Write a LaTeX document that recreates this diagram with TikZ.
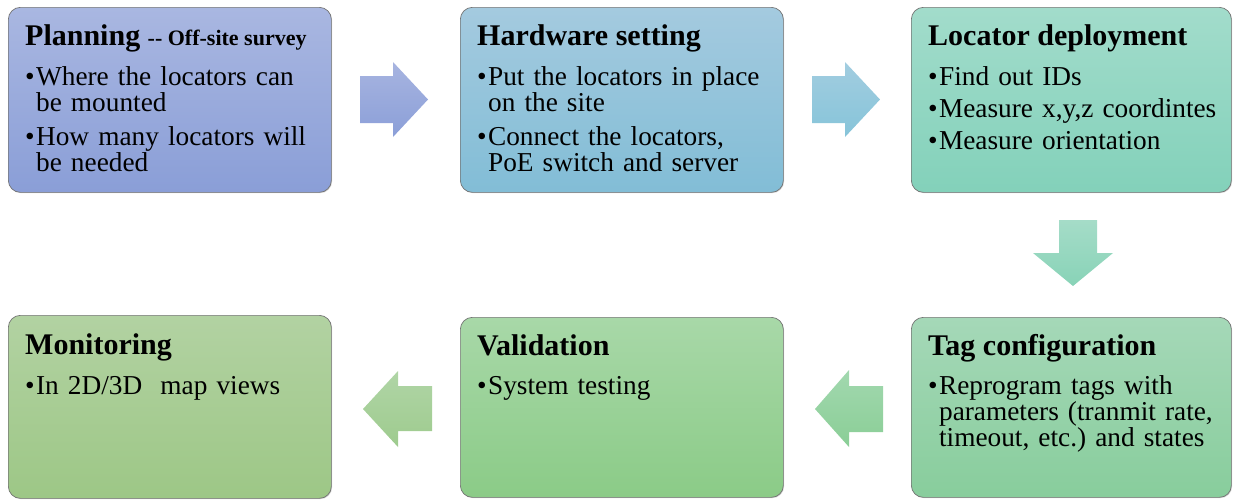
\documentclass[tikz,border=0pt]{standalone}
\usepackage{fontspec}
\setmainfont{Liberation Serif}
\usetikzlibrary{shadows}
\definecolor{bAt}{HTML}{A9B7E1}\definecolor{bAb}{HTML}{8A9ED7}
\definecolor{bBt}{HTML}{A4CADF}\definecolor{bBb}{HTML}{82BDD6}
\definecolor{bCt}{HTML}{A2DCCB}\definecolor{bCb}{HTML}{83D1BA}
\definecolor{bDt}{HTML}{A5D8B8}\definecolor{bDb}{HTML}{88CD9C}
\definecolor{bEt}{HTML}{A8D8A8}\definecolor{bEb}{HTML}{8BCB87}
\definecolor{bFt}{HTML}{B2D2A2}\definecolor{bFb}{HTML}{9DC786}
\definecolor{aAt}{HTML}{A7B4E0}\definecolor{aAb}{HTML}{8B9FD8}
\definecolor{aBt}{HTML}{A2CDE0}\definecolor{aBb}{HTML}{86C4D9}
\definecolor{aCt}{HTML}{A5DCC8}\definecolor{aCb}{HTML}{88D3B7}
\definecolor{aDt}{HTML}{A2D8AF}\definecolor{aDb}{HTML}{8ACE96}
\definecolor{aEt}{HTML}{B0D5A6}\definecolor{aEb}{HTML}{9ECB8E}
\newcommand\bu{\makebox[0.4em][l]{\textbullet}}
\newcommand\hi{\hspace*{0.4em}}
\frenchspacing
\begin{document}
\begin{tikzpicture}[x=1pt,y=-1pt,
  box/.style={draw=black!55, line width=0.7pt, rounded corners=12pt, inner sep=0pt,
    anchor=north west, minimum width=323pt, minimum height=185pt,
    drop shadow={opacity=0.35, shadow xshift=0.8pt, shadow yshift=-0.8pt}},
  ttl/.style={anchor=base west, inner sep=0pt, font=\bfseries\fontsize{30}{30}\selectfont},
  body/.style={anchor=base west, inner sep=0pt, align=left, text width=300pt,
    font=\fontsize{27.3}{26}\selectfont},
  blk/.style={draw=none}]
\useasboundingbox (0,0) rectangle (1233,499);
% boxes
\node (b1) [box, top color=bAt, bottom color=bAb] at (8,7) {};
\node (b2) [box, top color=bBt, bottom color=bBb] at (460,7) {};
\node (b3) [box, top color=bCt, bottom color=bCb, minimum width=320pt] at (911,7) {};
\node (b4) [box, top color=bDt, bottom color=bDb, minimum width=320pt, minimum height=180pt] at (911,317) {};
\node (b5) [box, top color=bEt, bottom color=bEb, minimum height=180pt] at (460,317) {};
\node (b6) [box, top color=bFt, bottom color=bFb, minimum height=183pt] at (8,315) {};
% texts
\node (t1) [ttl] at (25,45) {Planning {\fontsize{22}{22}\selectfont {-}{-} Off-site survey}};
\node (x1) [body] at (25,85) {\bu Where the locators can\\ \hi be mounted\\[8pt] \bu How many locators will\\ \hi be needed};
\node (t2) [ttl] at (477,45) {Hardware setting};
\node (x2) [body] at (477,85) {\bu Put the locators in place\\ \hi on the site\\[8pt] \bu Connect the locators,\\ \hi PoE switch and server};
\node (t3) [ttl] at (928,45) {Locator deployment};
\node (x3) [body] at (928,85) {\bu Find out IDs\\[6pt] \bu Measure x,y,z coordintes\\[6pt] \bu Measure orientation};
\node (t4) [ttl] at (928,355) {Tag configuration};
\node (x4) [body] at (928,394) {\bu Reprogram tags with\\ \hi parameters (tranmit rate,\\ \hi timeout, etc.) and states};
\node (t5) [ttl] at (477,355) {Validation};
\node (x5) [body] at (477,394) {\bu System testing};
\node (t6) [ttl] at (25,354) {Monitoring};
\node (x6) [body] at (25,394) {\bu In 2D/3D\ \ map views};
% block arrows
\shade[blk, top color=aAt, bottom color=aAb] (360,76) -- (393,76) -- (393,62) -- (428,99.5) -- (393,137) -- (393,123) -- (360,123) -- cycle;
\shade[blk, top color=aBt, bottom color=aBb] (812,76) -- (845,76) -- (845,62) -- (880,99.5) -- (845,137) -- (845,123) -- (812,123) -- cycle;
\shade[blk, top color=aCt, bottom color=aCb] (1059,220) -- (1097,220) -- (1097,253) -- (1113,253) -- (1073,286) -- (1033,253) -- (1059,253) -- cycle;
\shade[blk, top color=aDt, bottom color=aDb] (883,386) -- (849,386) -- (849,370) -- (815,409) -- (849,447) -- (849,432) -- (883,432) -- cycle;
\shade[blk, top color=aEt, bottom color=aEb] (432,386) -- (398,386) -- (398,371) -- (363,409) -- (398,447) -- (398,431) -- (432,431) -- cycle;
\end{tikzpicture}
\end{document}
